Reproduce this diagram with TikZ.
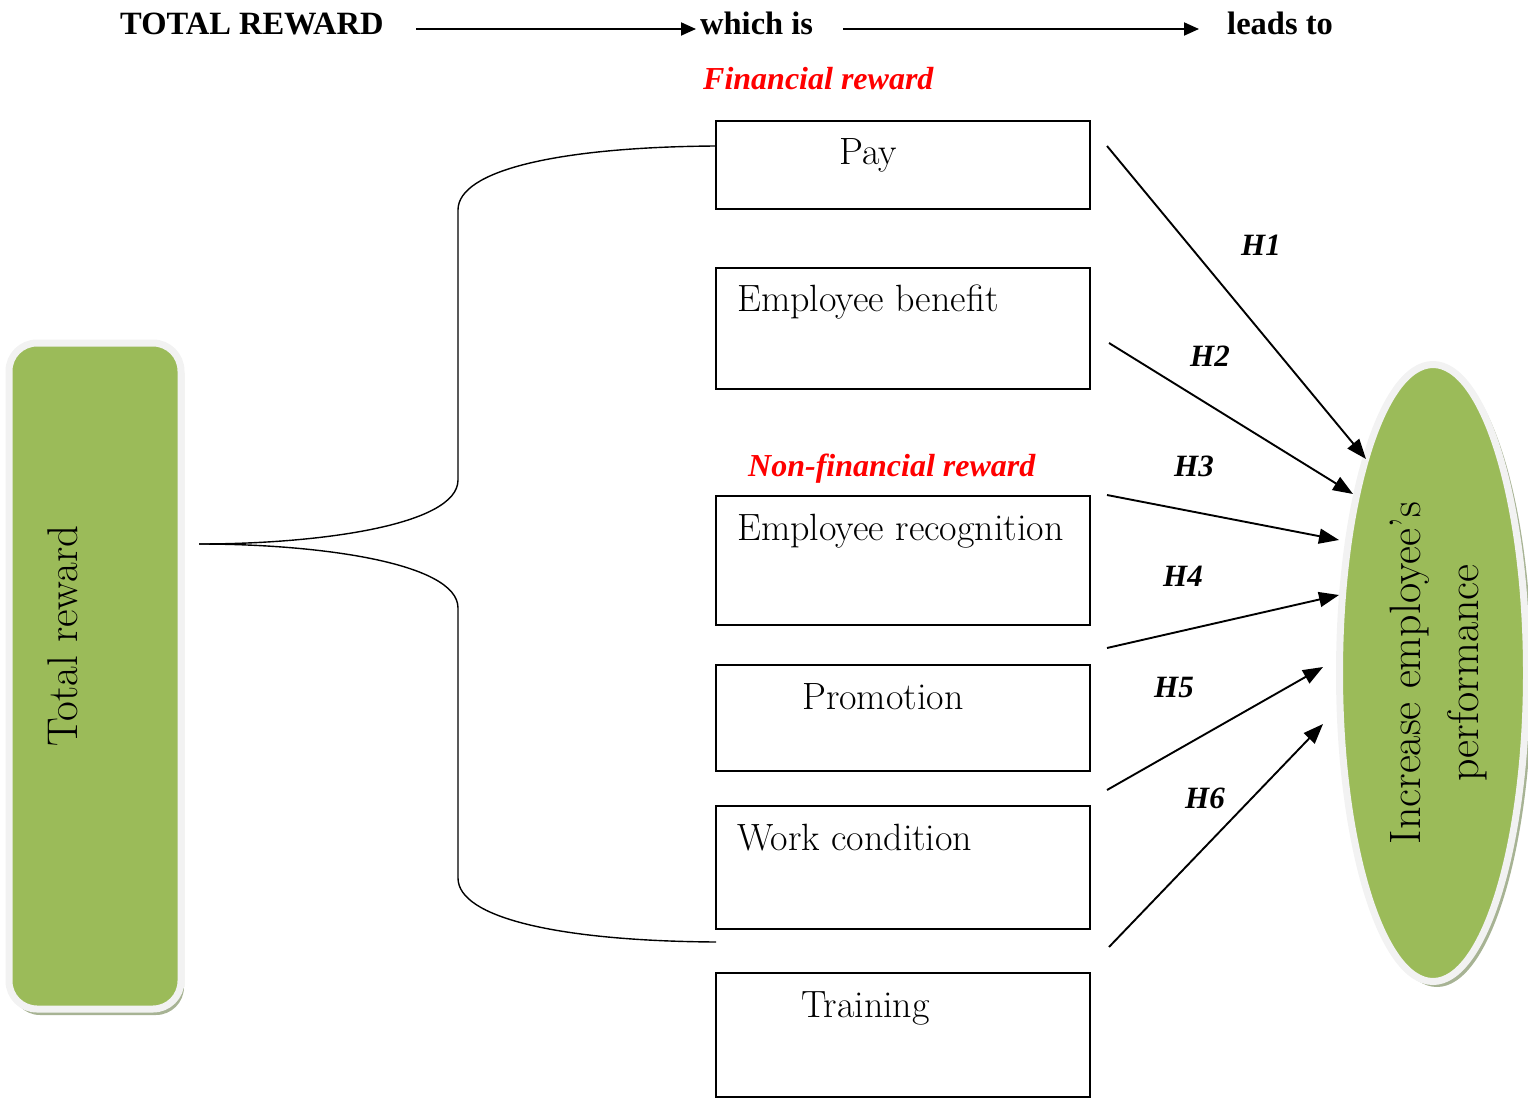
\documentclass[tikz,border=0pt]{standalone}
\usepackage{fontspec}
\newfontfamily\tnr{Liberation Serif}
\usetikzlibrary{arrows.meta,shapes.geometric}
\definecolor{grn}{HTML}{9BBB59}
\definecolor{rim}{HTML}{F2F2F2}
\definecolor{shd}{HTML}{A7B394}
\definecolor{redtxt}{HTML}{FF0000}
\begin{document}
\begin{tikzpicture}[x=1pt,y=-1pt,
  boxnode/.style={draw=black,line width=1.6pt,minimum width=374pt,inner sep=0pt},
  boxtext/.style={anchor=base west,inner sep=0pt,font=\fontsize{38}{44}\selectfont},
  headtxt/.style={anchor=base west,inner sep=0pt,font=\tnr\bfseries\fontsize{32.5}{36}\selectfont},
  redlab/.style={anchor=base west,inner sep=0pt,text=redtxt,font=\tnr\bfseries\itshape\fontsize{32}{36}\selectfont},
  hlab/.style={anchor=base west,inner sep=0pt,font=\tnr\bfseries\itshape\fontsize{31}{36}\selectfont},
  harrow/.style={line width=1.9pt,-{Triangle[length=20pt,width=15pt]}},
  toparrow/.style={line width=1.9pt,-{Triangle[length=15pt,width=13pt]}},
  bracket/.style={line width=1.4pt}
]
\useasboundingbox (0,0) rectangle (1528,1099);

% ---- left green box ----
\node[draw=none,fill=shd,rounded corners=28pt,minimum width=172pt,minimum height=670pt,inner sep=0pt] (trshadow) at (98,680) {};
\node[fill=grn,draw=rim,line width=7pt,rounded corners=28pt,minimum width=172pt,minimum height=666pt,inner sep=0pt] (trbox) at (95,676) {};
\node[rotate=90,anchor=base,inner sep=0pt,font=\fontsize{43}{48}\selectfont] (trtext) at (77,636) {Total reward};

% ---- right ellipse ----
\node[ellipse,fill=shd,draw=none,minimum width=190pt,minimum height=620pt,inner sep=0pt] (perfshadow) at (1437,677) {};
\node[ellipse,fill=grn,draw=rim,line width=7pt,minimum width=187pt,minimum height=617pt,inner sep=0pt] (perf) at (1433,673) {};
\node[rotate=90,align=center,inner sep=0pt,font=\fontsize{44}{58}\selectfont] (perftext) at (1439,673) {Increase employee’s\\performance};

% ---- header ----
\node[headtxt] (total) at (120,35) {TOTAL REWARD};
\node[headtxt] (which) at (700,35) {which is};
\node[headtxt] (leads) at (1227,35) {leads to};
\coordinate (a1s) at (416,29);
\coordinate (a1e) at (696,29);
\coordinate (a2s) at (843,29);
\coordinate (a2e) at (1199,29);
\draw[toparrow] (a1s) -- (a1e);
\draw[toparrow] (a2s) -- (a2e);

% ---- red labels ----
\node[redlab] (fin) at (703,90) {Financial reward};
\node[redlab] (nonfin) at (748,476) {Non-financial reward};

% ---- boxes ----
\node[boxnode,minimum height=88pt] (pay) at (903,165) {};
\node[boxnode,minimum height=121pt] (benefit) at (903,328.5) {};
\node[boxnode,minimum height=129pt] (recog) at (903,560.5) {};
\node[boxnode,minimum height=106pt] (promo) at (903,718) {};
\node[boxnode,minimum height=123pt] (work) at (903,867.5) {};
\node[boxnode,minimum height=124pt] (train) at (903,1035) {};

\node[boxtext] (paytxt) at (839,165) {Pay};
\node[boxtext] (benefittxt) at (737,312) {Employee benefit};
\node[boxtext] (recogtxt) at (737,540) {Employee recognition};
\node[boxtext] (promotxt) at (802,709) {Promotion};
\node[boxtext] (worktxt) at (737,850) {Work condition};
\node[boxtext] (traintxt) at (801,1017) {Training};

% ---- bracket ----
\coordinate (brroot) at (199,544);
\coordinate (brtop) at (716,146);
\coordinate (brbot) at (716,942);
\draw[bracket] (brtop) .. controls (560,147) and (458,170) .. (458,210)
  -- (458,480) .. controls (458,525) and (320,544) .. (brroot);
\draw[bracket] (brroot) .. controls (320,544) and (458,563) .. (458,608)
  -- (458,878) .. controls (458,918) and (560,941) .. (brbot);

% ---- hypothesis arrows ----
\coordinate (h1s) at (1107,146);  \coordinate (h1e) at (1366,459);
\coordinate (h2s) at (1109,343);  \coordinate (h2e) at (1353,494);
\coordinate (h3s) at (1107,495);  \coordinate (h3e) at (1339,540);
\coordinate (h4s) at (1107,648);  \coordinate (h4e) at (1339,595);
\coordinate (h5s) at (1107,790);  \coordinate (h5e) at (1323,667);
\coordinate (h6s) at (1109,947);  \coordinate (h6e) at (1323,724);
\draw[harrow] (h1s) -- (h1e);
\draw[harrow] (h2s) -- (h2e);
\draw[harrow] (h3s) -- (h3e);
\draw[harrow] (h4s) -- (h4e);
\draw[harrow] (h5s) -- (h5e);
\draw[harrow] (h6s) -- (h6e);

\node[hlab] (H1) at (1241,256) {H1};
\node[hlab] (H2) at (1190,366) {H2};
\node[hlab] (H3) at (1174,476) {H3};
\node[hlab] (H4) at (1163,586) {H4};
\node[hlab] (H5) at (1154,697) {H5};
\node[hlab] (H6) at (1185,808) {H6};
\end{tikzpicture}
\end{document}
